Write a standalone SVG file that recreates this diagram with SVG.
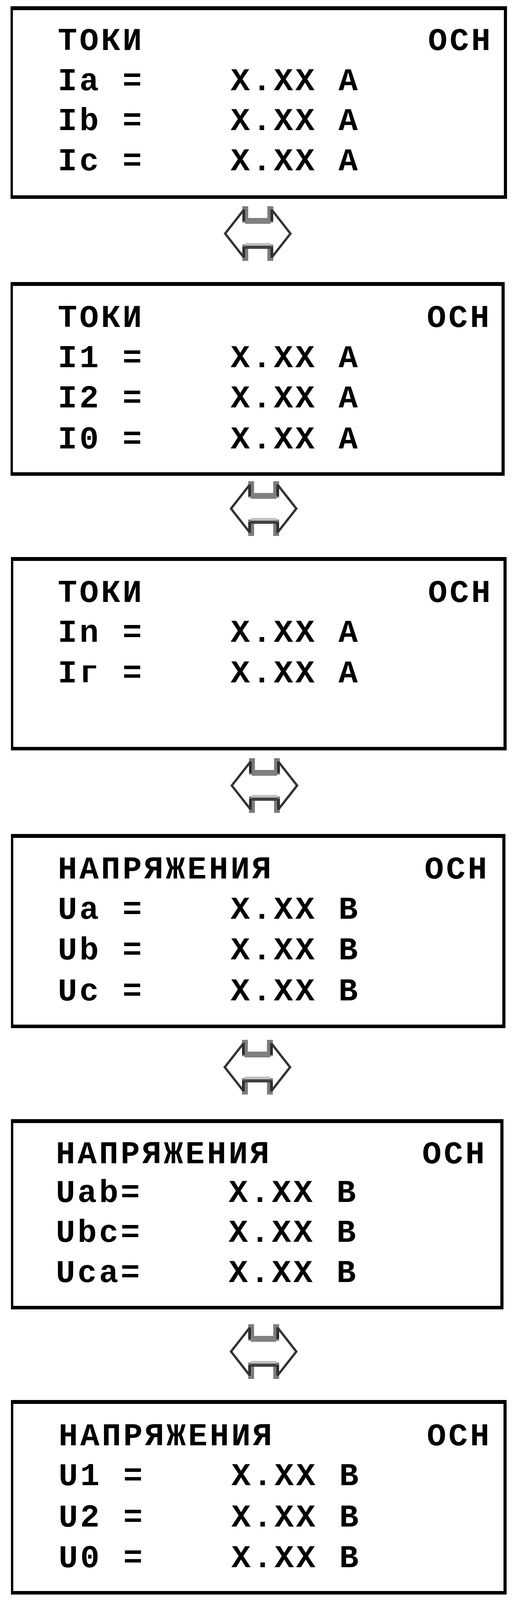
<svg xmlns="http://www.w3.org/2000/svg" xmlns:xlink="http://www.w3.org/1999/xlink" width="1320" height="5504" viewBox="0 0 1320 5504">
<style>
.frame{fill:#000;fill-rule:evenodd}
.t{font-family:"Courier New","Liberation Mono",monospace;font-weight:bold;font-size:82px;letter-spacing:6px;fill:#000}
.diag{fill:none;stroke:#333;stroke-width:6;stroke-linejoin:miter}
.stem{fill:#7c7c7c}
.stemd{fill:#2e2e2e}
.barT{fill:#808080}
.barL{fill:#c0c0c0}
.barD{fill:#404040}
</style>
<defs>
<g id="arrow">
<rect class="stem" x="48" y="0" width="15" height="42"/>
<rect class="stemd" x="48" y="8" width="7" height="30"/>
<rect class="stem" x="112" y="0" width="15" height="42"/>
<rect class="stemd" x="120" y="8" width="7" height="30"/>
<rect class="stem" x="48" y="98" width="15" height="42"/>
<rect class="stemd" x="48" y="104" width="7" height="28"/>
<rect class="stem" x="112" y="98" width="15" height="42"/>
<rect class="stemd" x="120" y="104" width="7" height="28"/>
<rect class="barT" x="55" y="30" width="65" height="15"/>
<rect class="barL" x="55" y="94" width="65" height="7"/>
<rect class="barD" x="55" y="101" width="65" height="8"/>
<path class="diag" d="M51,10 L4,70 L51,130 M124,10 L171,70 L124,130"/>
</g>
</defs>
<rect width="1320" height="5504" fill="#fff"/>
<g id="connectors">
<use xlink:href="#arrow" x="572" y="528"/>
<use xlink:href="#arrow" x="587" y="1232"/>
<use xlink:href="#arrow" x="589" y="1941"/>
<use xlink:href="#arrow" x="571" y="2662"/>
<use xlink:href="#arrow" x="587" y="3390"/>
<use xlink:href="#arrow" x="587" y="4109"/>
<use xlink:href="#arrow" x="587" y="4825"/>
<use xlink:href="#arrow" x="595" y="5501"/>
</g>
<g id="node1">
<path class="frame" d="M27,16H1297V509H27Z M33,26V500H1289V26Z"/>
<text class="t" x="148" y="128">ТОКИ</text><text class="t" x="1095" y="128">ОСН</text>
<text class="t" x="148" y="231">Ia =</text><text class="t" x="590" y="231">X.XX А</text>
<text class="t" x="148" y="333">Ib =</text><text class="t" x="590" y="333">X.XX А</text>
<text class="t" x="148" y="436">Ic =</text><text class="t" x="590" y="436">X.XX А</text>
</g>
<g id="node2">
<path class="frame" d="M27,722H1291V1218H27Z M33,732V1209H1283V732Z"/>
<text class="t" x="148" y="837">ТОКИ</text><text class="t" x="1092" y="837">ОСН</text>
<text class="t" x="148" y="940">I1 =</text><text class="t" x="590" y="940">X.XX А</text>
<text class="t" x="148" y="1043">I2 =</text><text class="t" x="590" y="1043">X.XX А</text>
<text class="t" x="148" y="1148">I0 =</text><text class="t" x="590" y="1148">X.XX А</text>
</g>
<g id="node3">
<path class="frame" d="M28,1426H1296V1921H28Z M34,1436V1912H1288V1436Z"/>
<text class="t" x="148" y="1541">ТОКИ</text><text class="t" x="1095" y="1541">ОСН</text>
<text class="t" x="148" y="1643">In =</text><text class="t" x="590" y="1643">X.XX А</text>
<text class="t" x="148" y="1747">Iг =</text><text class="t" x="590" y="1747">X.XX А</text>
</g>
<g id="node4">
<path class="frame" d="M28,2135H1293V2632H28Z M34,2145V2623H1285V2145Z"/>
<text class="t" x="148" y="2249">НАПРЯЖЕНИЯ</text><text class="t" x="1086" y="2249">ОСН</text>
<text class="t" x="148" y="2352">Ua =</text><text class="t" x="590" y="2352">X.XX В</text>
<text class="t" x="148" y="2456">Ub =</text><text class="t" x="590" y="2456">X.XX В</text>
<text class="t" x="148" y="2561">Uc =</text><text class="t" x="590" y="2561">X.XX В</text>
</g>
<g id="node5">
<path class="frame" d="M28,2865H1288V3352H28Z M34,2875V3343H1280V2875Z"/>
<text class="t" x="143" y="2978">НАПРЯЖЕНИЯ</text><text class="t" x="1080" y="2978">ОСН</text>
<text class="t" x="143" y="3077">Uab=</text><text class="t" x="585" y="3077">X.XX В</text>
<text class="t" x="143" y="3179">Ubc=</text><text class="t" x="585" y="3179">X.XX В</text>
<text class="t" x="143" y="3282">Uca=</text><text class="t" x="585" y="3282">X.XX В</text>
</g>
<g id="node6">
<path class="frame" d="M28,3584H1296V4082H28Z M34,3594V4073H1288V3594Z"/>
<text class="t" x="150" y="3700">НАПРЯЖЕНИЯ</text><text class="t" x="1092" y="3700">ОСН</text>
<text class="t" x="150" y="3802">U1 =</text><text class="t" x="592" y="3802">X.XX В</text>
<text class="t" x="150" y="3908">U2 =</text><text class="t" x="592" y="3908">X.XX В</text>
<text class="t" x="150" y="4012">U0 =</text><text class="t" x="592" y="4012">X.XX В</text>
</g>
<g id="node7">
<path class="frame" d="M28,4305H1296V4793H28Z M34,4315V4784H1288V4315Z"/>
<text class="t" x="150" y="4418">НАПР. ЧАСТОТА</text><text class="t" x="1089" y="4418">ОСН</text>
<text class="t" x="205" y="4523">F =</text><text class="t" x="592" y="4523">X.XX Гц</text>
<text class="t" x="150" y="4630">Un =</text><text class="t" x="592" y="4630">X.XX В</text>
</g>
<g id="node8">
<path class="frame" d="M28,5009H1303V5479H28Z M34,5019V5474H1295V5019Z"/>
<text class="t" x="150" y="5124">МОЩНОСТИ</text><text class="t" x="1082" y="5124">ОСН</text>
<text class="t" x="205" y="5228">P =</text><text class="t" x="595" y="5228">X.XX Вт</text>
<text class="t" x="205" y="5333">Q =</text><text class="t" x="595" y="5333">X.XX вар</text>
<text class="t" x="150" y="5437">cosf=</text><text class="t" x="705" y="5437">X.XX</text>
</g>
</svg>
